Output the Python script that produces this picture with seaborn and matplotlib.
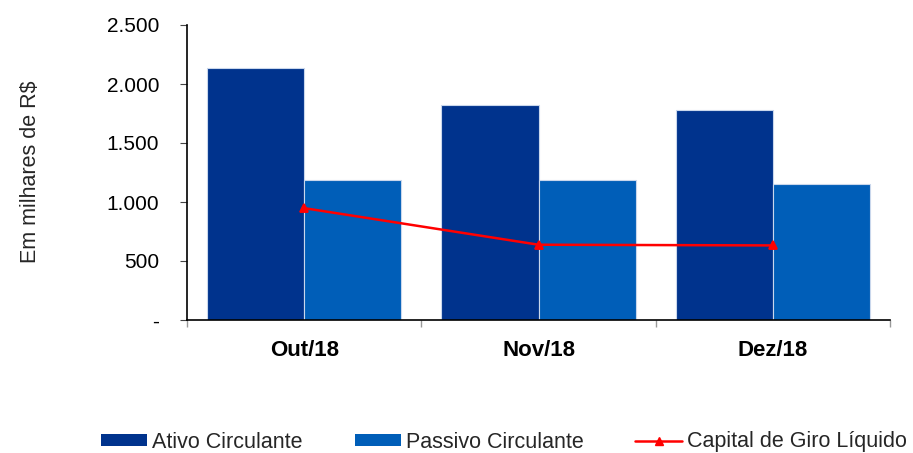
import matplotlib
matplotlib.use("Agg")
import matplotlib.pyplot as plt
import matplotlib.ticker as mticker
from matplotlib.patches import Patch
from matplotlib.lines import Line2D
import seaborn as sns
import pandas as pd

categories = ["Out/18", "Nov/18", "Dez/18"]
ativo = [2136, 1822, 1782]
passivo = [1184, 1184, 1150]
capital = [948, 638, 632]
series_names = ["Ativo Circulante", "Passivo Circulante", "Capital de Giro Líquido"]
y_ticks = [0, 500, 1000, 1500, 2000, 2500]

sns.set_style("white")
plt.rcParams["font.family"] = ["Liberation Sans", "DejaVu Sans"]

c_ativo = "#00338D"
c_passivo = "#005EB8"
c_line = "#FF0000"

df = pd.DataFrame({
    "mes": categories * 2,
    "valor": ativo + passivo,
    "serie": [series_names[0]] * 3 + [series_names[1]] * 3,
})

fig = plt.figure(figsize=(9.13, 4.53), dpi=100)
ax = fig.add_axes([187 / 913, 1 - 320 / 453, (890 - 187) / 913, (320 - 25) / 453])

sns.barplot(data=df, x="mes", y="valor", hue="serie", order=categories,
            hue_order=series_names[:2], palette=[c_ativo, c_passivo],
            width=0.83, edgecolor="#c9d7ec", linewidth=0.8, saturation=1,
            ax=ax, legend=False)

df_line = pd.DataFrame({"mes": categories, "valor": capital})
sns.pointplot(data=df_line, x="mes", y="valor", order=categories, color=c_line,
              markers="^", markersize=6, linewidth=1.8, ax=ax)

ax.set_xlim(-0.5, 2.5)
ax.set_ylim(0, 2500)
ax.set_yticks(y_ticks)
ax.yaxis.set_major_formatter(mticker.FuncFormatter(
    lambda v, p: "-" if v == 0 else f"{int(v):,}".replace(",", ".")))
ax.tick_params(axis="y", left=True, length=5, width=0.8, color="#444444",
               labelsize=15, pad=15, labelcolor="black")
ax.set_xticks([0, 1, 2])
ax.set_xticklabels(categories, fontweight="bold", fontsize=16)
ax.set_xticks([-0.5, 0.5, 1.5, 2.5], minor=True)
ax.tick_params(axis="x", which="major", bottom=False, pad=11, labelcolor="black")
ax.tick_params(axis="x", which="minor", bottom=True, length=5, width=1, color="#999999")
ax.set_xlabel("")
ax.set_ylabel("")
for s in ["top", "right"]:
    ax.spines[s].set_visible(False)
for s in ["left", "bottom"]:
    ax.spines[s].set_color("black")
    ax.spines[s].set_linewidth(1.2)

fig.text(31 / 913, 1 - 172 / 453, "Em milhares de R$", rotation=90,
         ha="center", va="center", fontsize=15.5)

handles = [
    Patch(facecolor=c_ativo, edgecolor="none"),
    Patch(facecolor=c_passivo, edgecolor="none"),
    Line2D([0], [0], color=c_line, lw=1.8, marker="^", markersize=6),
]
fig.legend(handles, series_names, loc="center left",
           bbox_to_anchor=(101 / 913, 1 - 442 / 453), ncol=3, frameon=False,
           borderaxespad=0, borderpad=0, handlelength=2.14, handleheight=0.47,
           handletextpad=0.25, columnspacing=2.4,
           prop={"family": ["Liberation Sans", "DejaVu Sans"], "size": 15.5})

fig.savefig("out.png", dpi=100)
